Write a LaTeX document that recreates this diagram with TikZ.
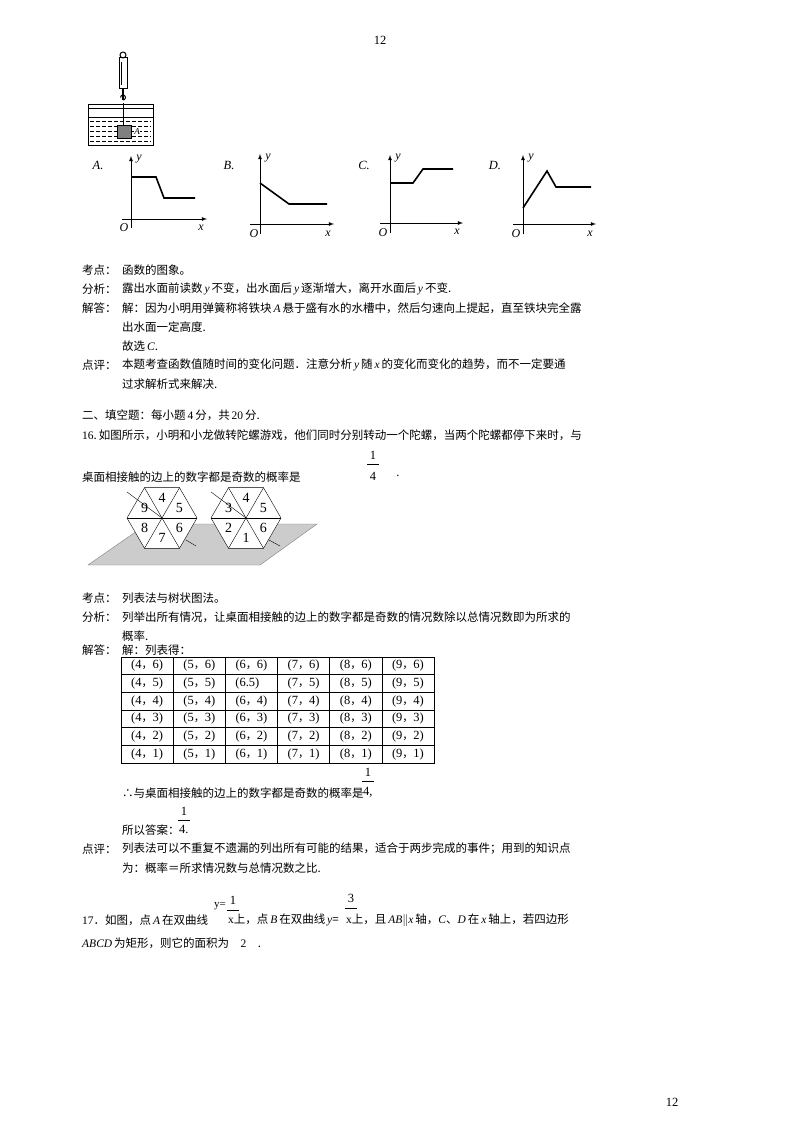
\documentclass[tikz,border=0pt]{standalone}
\usepackage{fontspec}
\setmainfont{Noto Sans CJK SC}
\newfontfamily\cjkfam{Noto Sans CJK SC}
\newfontfamily\lat{Liberation Serif}
\newcommand\vi[1]{{\lat\itshape #1}}
\newcommand\nm[1]{{\lat #1}}
\begin{document}
\begin{tikzpicture}[x=1pt,y=-1pt,
  txt/.style={anchor=west,inner sep=0pt,font=\fontsize{11.5}{14}\selectfont},
  ax/.style={line width=0.8pt,-latex},
  crv/.style={line width=1.6pt},
  cell/.style={inner sep=0pt,font=\lat\fontsize{12.5}{14}\selectfont}]
\useasboundingbox (0,0) rectangle (800,1132);
\fill[white] (0,0) rectangle (800,1132);
\node[cell] (pg1) at (380,40) {12};
\node[cell] (pg2) at (672,1102) {12};
% apparatus
\draw[line width=1pt] (123,55) circle (3);
\draw[line width=1pt] (119,58) rectangle (127,88);
\draw (121,62) -- (121,85);
\draw[line width=1.2pt] (123,88) -- (123,100);
\draw[line width=1pt] (123,100) arc (90:-180:2.5);
\draw[line width=1pt] (88,104) rectangle (153,108);
\draw[line width=1pt] (88,108) -- (88,145) -- (153,145) -- (153,108);
\draw (88,117) -- (153,117);
\foreach \yy in {121,126,131,136,141}{\draw[line width=0.9pt,dash pattern=on 4pt off 2pt] (90,\yy) -- (151,\yy);}
\draw (123,103) -- (123,125);
\fill[gray] (117,125) rectangle (131,138);
\draw (117,125) rectangle (131,138);
\node[cell,fill=white,inner sep=0.5pt,font=\lat\itshape\fontsize{9}{9}\selectfont] (lA) at (137,132) {A};
% graphs
\node[cell,font=\lat\itshape\fontsize{12.5}{14}\selectfont] (gA) at (98,165) {A.};
\draw[ax] (122,219) -- (207,219);
\draw[ax] (131,228) -- (131,156);
\draw[crv] (131,177) -- (156,177) -- (164,198) -- (195,198);
\node[cell,font=\lat\itshape\fontsize{12}{14}\selectfont] (yA) at (139,159) {y};
\node[cell,font=\lat\itshape\fontsize{12}{14}\selectfont] (oA) at (124,228) {O};
\node[cell,font=\lat\itshape\fontsize{12}{14}\selectfont] (xA) at (201,228) {x};
\node[cell,font=\lat\itshape\fontsize{12.5}{14}\selectfont] (gB) at (229,165) {B.};
\draw[ax] (250,224) -- (334,224);
\draw[ax] (260,234) -- (260,154);
\draw[crv] (260,183) -- (289,204) -- (327,204);
\node[cell,font=\lat\itshape\fontsize{12}{14}\selectfont] (yB) at (268,158) {y};
\node[cell,font=\lat\itshape\fontsize{12}{14}\selectfont] (oB) at (254,234) {O};
\node[cell,font=\lat\itshape\fontsize{12}{14}\selectfont] (xB) at (328,234) {x};
\node[cell,font=\lat\itshape\fontsize{12.5}{14}\selectfont] (gC) at (364,165) {C.};
\draw[ax] (380,223) -- (463,223);
\draw[ax] (390,233) -- (390,155);
\draw[crv] (390,183) -- (413,183) -- (423,169) -- (453,169);
\node[cell,font=\lat\itshape\fontsize{12}{14}\selectfont] (yC) at (398,158) {y};
\node[cell,font=\lat\itshape\fontsize{12}{14}\selectfont] (oC) at (383,233) {O};
\node[cell,font=\lat\itshape\fontsize{12}{14}\selectfont] (xC) at (457,232) {x};
\node[cell,font=\lat\itshape\fontsize{12.5}{14}\selectfont] (gD) at (495,165) {D.};
\draw[ax] (513,224) -- (596,224);
\draw[ax] (523,234) -- (523,155);
\draw[crv] (523,208) -- (547,171) -- (556,187) -- (591,187);
\node[cell,font=\lat\itshape\fontsize{12}{14}\selectfont] (yD) at (531,158) {y};
\node[cell,font=\lat\itshape\fontsize{12}{14}\selectfont] (oD) at (516,234) {O};
\node[cell,font=\lat\itshape\fontsize{12}{14}\selectfont] (xD) at (590,234) {x};
% text block 1
\node[txt] (t1) at (82,270) {考点：};
\node[txt] (t1b) at (122,270) {函数的图象。};
\node[txt] (t2) at (82,289) {分析：};
\node[txt] (t2b) at (122,289) {露出水面前读数\,\vi{y}\,不变，出水面后\,\vi{y}\,逐渐增大，离开水面后\,\vi{y}\,不变.};
\node[txt] (t3) at (82,308) {解答：};
\node[txt] (t3b) at (122,308) {解：因为小明用弹簧称将铁块\,\vi{A}\,悬于盛有水的水槽中，然后匀速向上提起，直至铁块完全露};
\node[txt] (t4) at (122,327) {出水面一定高度.};
\node[txt] (t5) at (122,346) {故选\,\vi{C}.};
\node[txt] (t6) at (82,365) {点评：};
\node[txt] (t6b) at (122,365) {本题考查函数值随时间的变化问题．注意分析\,\vi{y}\,随\,\vi{x}\,的变化而变化的趋势，而不一定要通};
\node[txt] (t7) at (122,384) {过求解析式来解决.};
\node[txt] (t8) at (82,415) {二、填空题：每小题\,\nm{4}\,分，共\,\nm{20}\,分.};
\node[txt] (t9) at (82,435) {\nm{16}.\,如图所示，小明和小龙做转陀螺游戏，他们同时分别转动一个陀螺，当两个陀螺都停下来时，与};
\node[txt] (t10) at (82,477) {桌面相接触的边上的数字都是奇数的概率是};
\node[cell] (f1n) at (373,455) {1};
\draw (367,464) -- (379,464);
\node[cell] (f1d) at (373,476) {4};
\node[cell] (f1p) at (398,476) {.};
% hexagon figure
\fill[gray!40,draw=gray] (88,565) -- (260,565) -- (317,524) -- (147,524) -- cycle;
\draw (186,540) -- (196,546);
\draw (269,540) -- (280,546);
\foreach \cx/\lab in {162/{4,5,6,7,8,9},246/{4,5,6,1,2,3}}{
  \begin{scope}[shift={(\cx,518)}]
  \fill[white] (0:35) -- (60:35) -- (120:35) -- (180:35) -- (240:35) -- (300:35) -- cycle;
  \draw (0:35) -- (60:35) -- (120:35) -- (180:35) -- (240:35) -- (300:35) -- cycle;
  \foreach \a in {0,60,120} \draw (\a:35) -- (\a+180:35);
  \draw (0,0) -- (-35,-26);
  \foreach \d [count=\k] in \lab {
     \node[cell,font=\lat\fontsize{14}{14}\selectfont] at ({-90+(\k-1)*60}:20) {\d};}
  \end{scope}}
% text block 2
\node[txt] (s1) at (82,598) {考点：};
\node[txt] (s1b) at (122,598) {列表法与树状图法。};
\node[txt] (s2) at (82,617) {分析：};
\node[txt] (s2b) at (122,617) {列举出所有情况，让桌面相接触的边上的数字都是奇数的情况数除以总情况数即为所求的};
\node[txt] (s3) at (122,636) {概率.};
\node[txt] (s4) at (82,650) {解答：};
\node[txt] (s4b) at (122,650) {解：列表得：};
% table
\draw (121,657) rectangle (434,763);
\foreach \i in {1,...,5} \draw (121+52.17*\i,657) -- (121+52.17*\i,763);
\foreach \j in {1,...,5} \draw (121,657+17.67*\j) -- (434,657+17.67*\j);
\foreach \c [count=\ci] in {4,5,6,7,8,9}{
  \foreach \r [count=\ri] in {6,5,4,3,2,1}{
    \ifnum\numexpr\ci*10+\ri\relax=32
      \node[cell] at ({121+52.17*(\ci-0.5)-4},{657+17.67*(\ri-0.5)}) {(6.5)};
    \else
      \node[cell] at ({121+52.17*(\ci-0.5)},{657+17.67*(\ri-0.5)}) {(\c{\cjkfam\fontsize{11}{12}\selectfont ，}\r)};
    \fi}}
\node[txt] (s5) at (122,793) {∴与桌面相接触的边上的数字都是奇数的概率是};
\node[cell] (f2n) at (368,772) {1};
\draw (362,781) -- (374,781);
\node[cell,anchor=west] (f2d) at (363,792) {4,};
\node[txt] (s6) at (122,830) {所以答案：};
\node[cell] (f3n) at (184,811) {1};
\draw (178,820) -- (190,820);
\node[cell,anchor=west] (f3d) at (179,829) {4.};
\node[txt] (s7) at (82,849) {点评：};
\node[txt] (s7b) at (122,849) {列表法可以不重复不遗漏的列出所有可能的结果，适合于两步完成的事件；用到的知识点};
\node[txt] (s8) at (122,868) {为：概率＝所求情况数与总情况数之比.};
% problem 17
\node[txt] (p1) at (82,920) {\nm{17}．如图，点\,\vi{A}\,在双曲线};
\node[cell,font=\lat\fontsize{11}{12}\selectfont] (p1y) at (220,906) {y=};
\node[cell] (p1n) at (233,900) {1};
\draw (227,910) -- (239,910);
\node[txt] (p1c) at (228,920) {\nm{x}上，点\,\vi{B}\,在双曲线\,\vi{y}=};
\node[cell] (p2n) at (351,898) {3};
\draw (345,908) -- (357,908);
\node[txt] (p1d) at (346,920) {\nm{x}上，且\,\vi{AB}$\|$\vi{x}\,轴，\vi{C}、\vi{D}\,在\,\vi{x}\,轴上，若四边形};
\node[txt] (p2) at (82,943) {\vi{ABCD}\,为矩形，则它的面积为\quad \nm{2}\quad .};
\end{tikzpicture}
\end{document}
